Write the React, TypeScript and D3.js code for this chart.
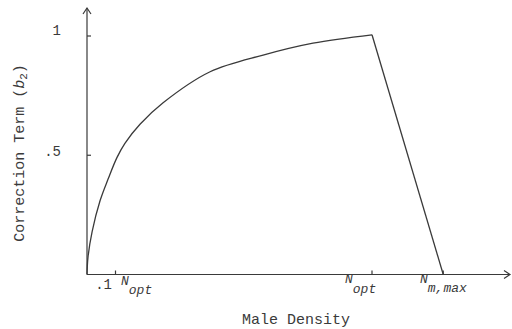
import React from "react";
import * as d3 from "d3";

// Rising branch of the correction term b2 versus male density (in units of N_opt)
const densityRise = [0, 0.0035, 0.018, 0.046, 0.074, 0.105, 0.133, 0.186, 0.267, 0.432, 0.618, 0.793, 1.0];
const b2Rise = [0, 0.073, 0.18, 0.31, 0.4, 0.49, 0.55, 0.63, 0.72, 0.85, 0.92, 0.97, 1.005];

// Falling branch: linear from N_opt down to N_m,max
const densityFall = [1.0, 1.25];
const b2Fall = [1.005, 0];

const yTicks = [0.5, 1];
const yTickLabels = [".5", "1"];
const xTickValues = [0.1, 1.0, 1.25];

const W = 512;
const H = 329;
const ink = "#3a3a3a";
const mono = "'Liberation Mono', 'DejaVu Sans Mono', monospace";

export default function App() {
  const x = d3.scaleLinear().domain([0, 1]).range([87, 372]);
  const y = d3.scaleLinear().domain([0, 1]).range([274.5, 36]);

  const line = d3
    .line<[number, number]>()
    .x((d) => x(d[0]))
    .y((d) => y(d[1]))
    .curve(d3.curveCatmullRom.alpha(0.5));
  const straight = d3
    .line<[number, number]>()
    .x((d) => x(d[0]))
    .y((d) => y(d[1]));

  const rise = densityRise.map((d, i) => [d, b2Rise[i]] as [number, number]);
  const fall = densityFall.map((d, i) => [d, b2Fall[i]] as [number, number]);

  const x0 = x(0);
  const y0 = y(0);
  const xEnd = 510;
  const yTop = 8;

  return (
    <svg
      width={W}
      height={H}
      style={{ position: "absolute", left: 0, top: 0, background: "#fff" }}
    >
      {/* axes with arrowheads */}
      <g stroke={ink} strokeWidth={1.2} fill="none">
        <line x1={x0} y1={y0} x2={xEnd} y2={y0} />
        <polyline points={`${xEnd - 6},${y0 - 4} ${xEnd},${y0} ${xEnd - 6},${y0 + 4}`} />
        <line x1={x0} y1={y0} x2={x0} y2={yTop} />
        <polyline points={`${x0 - 4},${yTop + 6} ${x0},${yTop} ${x0 + 4},${yTop + 6}`} />
        {yTicks.map((t) => (
          <line key={t} x1={x0} y1={y(t)} x2={x0 + 4} y2={y(t)} />
        ))}
        {xTickValues.map((t) => (
          <line key={t} x1={x(t)} y1={y0} x2={x(t)} y2={y0 - 4} />
        ))}
      </g>

      {/* curve */}
      <path d={line(rise) ?? ""} fill="none" stroke={ink} strokeWidth={1.3} />
      <path d={straight(fall) ?? ""} fill="none" stroke={ink} strokeWidth={1.3} />

      {/* y tick labels */}
      <g fontFamily={mono} fontSize={14} fill={ink}>
        {yTicks.map((t, i) => (
          <text key={t} x={x0 - 26} y={y(t) + (t === 1 ? -1 : 1)} textAnchor="end">
            {yTickLabels[i]}
          </text>
        ))}
      </g>

      {/* x tick labels */}
      <g fontFamily={mono} fill={ink} fontSize={13}>
        <text x={112} y={289} fontSize={14} textAnchor="end">.1</text>
        <text x={121} y={285} fontStyle="italic">
          N<tspan dy={9}>opt</tspan>
        </text>
        <text x={345} y={283} fontStyle="italic">
          N<tspan dy={10}>opt</tspan>
        </text>
        <text x={420} y={283} fontStyle="italic">
          N<tspan dy={9}>m,max</tspan>
        </text>
      </g>

      {/* axis titles */}
      <text x={296} y={324} fontFamily={mono} fontSize={15} fill={ink} textAnchor="middle">
        Male Density
      </text>
      <text
        transform="translate(24,153) rotate(-90)"
        fontFamily={mono}
        fontSize={15}
        fill={ink}
        textAnchor="middle"
      >
        Correction Term (<tspan fontStyle="italic">b</tspan>
        <tspan fontSize={11} dy={3}>2</tspan>
        <tspan dy={-3}>)</tspan>
      </text>
    </svg>
  );
}
